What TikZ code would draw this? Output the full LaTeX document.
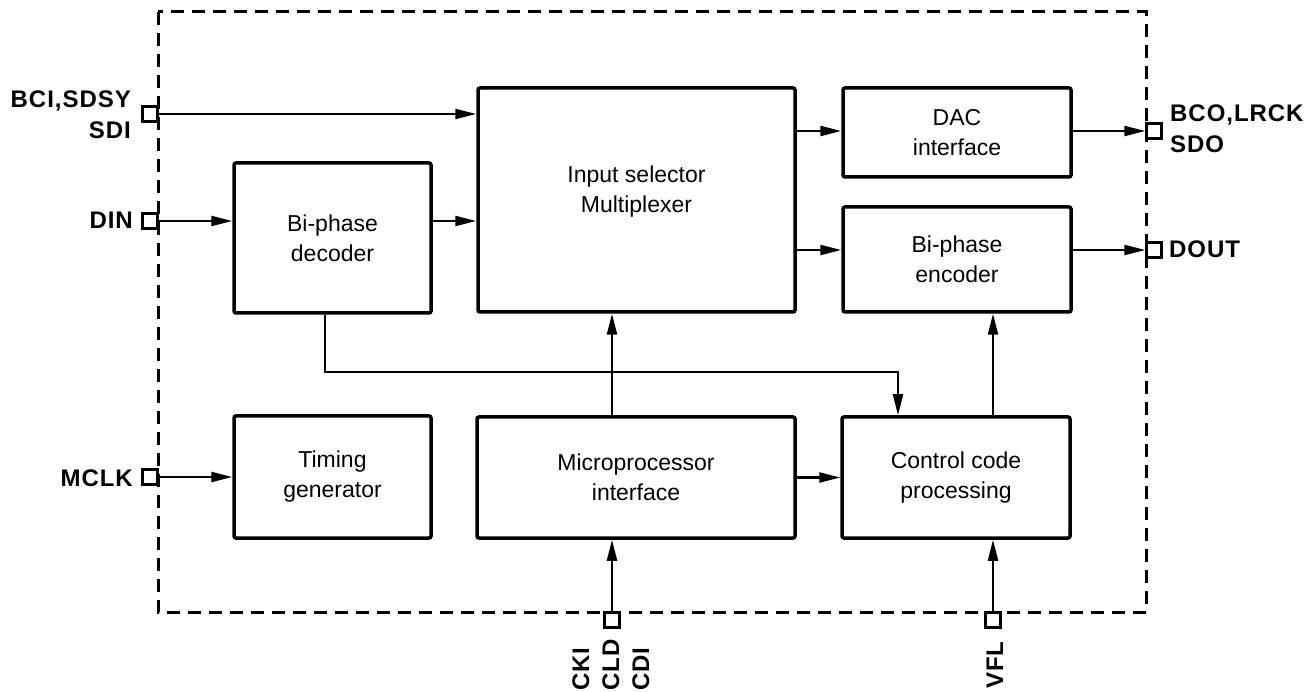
\documentclass[tikz,border=0pt]{standalone}
\usepackage{fontspec}
\setmainfont{Liberation Sans}
\usetikzlibrary{arrows.meta}
\begin{document}
\begin{tikzpicture}[x=1pt,y=-1pt,
  blk/.style={draw, line width=3.5pt, rounded corners=2pt, align=center, inner sep=0pt,
    font=\fontsize{23}{30}\selectfont},
  pinbox/.style={draw, line width=2.4pt, minimum size=15pt, inner sep=0pt},
  lbl/.style={inner sep=0pt, font=\fontsize{24}{30}\selectfont\bfseries\addfontfeatures{LetterSpace=4}},
  arr/.style={line width=2.3pt, -{Triangle[length=21pt,width=10pt]}},
  border/.style={line width=3pt, dash pattern=on 13pt off 8pt}]
\useasboundingbox (0,0) rectangle (1307,692);
% outer dashed boundary
\draw[border] (158,12) rectangle (1146,612);
% blocks
\node[blk, minimum width=197pt, minimum height=150pt] (dec) at (332.5,238) {Bi-phase\\decoder};
\node[blk, minimum width=317pt, minimum height=224pt] (mux) at (636.5,200) {};
\node at (636.5,192) [align=center, inner sep=0pt, font=\fontsize{23}{30}\selectfont] (muxt) {Input selector\\Multiplexer};
\node[blk, minimum width=228pt, minimum height=89pt] (dac) at (957,132.5) {DAC\\interface};
\node[blk, minimum width=228pt, minimum height=105pt] (enc) at (957,259.5) {Bi-phase\\encoder};
\node[blk, minimum width=197pt, minimum height=122pt] (tim) at (332.5,477) {Timing\\generator};
\node[blk, minimum width=318pt, minimum height=121pt] (mic) at (636,477.5) {Microprocessor\\interface};
\node[blk, minimum width=228pt, minimum height=121pt] (ctl) at (956,477.5) {Control code\\processing};
% pins
\node[pinbox] (pBCI) at (150,114) {};
\node[pinbox] (pDIN) at (150,221) {};
\node[pinbox] (pMCLK) at (150,477) {};
\node[pinbox] (pBCO) at (1154,131) {};
\node[pinbox] (pDOUT) at (1154,250) {};
\node[pinbox] (pCKI) at (612,620) {};
\node[pinbox] (pVFL) at (993,620) {};
% pin labels
\node[lbl, anchor=base east] (lBCI) at (131,108) {BCI,SDSY};
\node[lbl, anchor=base east] (lSDI) at (131,139) {SDI};
\node[lbl, anchor=base east] (lDIN) at (133,229) {DIN};
\node[lbl, anchor=base east] (lMCLK) at (133,486) {MCLK};
\node[lbl, anchor=base west] (lBCO) at (1170,122) {BCO,LRCK};
\node[lbl, anchor=base west] (lSDO) at (1170,153) {SDO};
\node[lbl, anchor=base west] (lDOUT) at (1169,258) {DOUT};
\node[lbl, rotate=90, anchor=base west] (lCKI) at (589,691) {CKI};
\node[lbl, rotate=90, anchor=base west] (lCLD) at (619,691) {CLD};
\node[lbl, rotate=90, anchor=base west] (lCDI) at (649,691) {CDI};
\node[lbl, rotate=90, anchor=base west] (lVFL) at (1003,689) {VFL};
% connectors
\draw[arr] (pBCI.east) -- (pBCI -| mux.west);
\draw[arr] (pDIN.east) -- (pDIN -| dec.west);
\draw[arr] (dec.east |- pDIN) -- (mux.west |- pDIN);
\draw[arr] (mux.east |- pBCO) -- (dac.west |- pBCO);
\draw[arr] (mux.east |- pDOUT) -- (enc.west |- pDOUT);
\draw[arr] (dac.east |- pBCO) -- (pBCO.west);
\draw[arr] (enc.east |- pDOUT) -- (pDOUT.west);
\draw[arr] ([xshift=-7.5pt]dec.south) -- ++(0,57) -| ([xshift=-58pt]ctl.north);
\draw[arr] (pCKI |- mic.north) -- (pCKI |- mux.south);
\draw[arr] (pVFL |- ctl.north) -- (pVFL |- enc.south);
\draw[arr] (pMCLK.east) -- (pMCLK -| tim.west);
\draw[arr] (mic.east) -- (ctl.west);
\draw[arr] (pCKI.north) -- (pCKI |- mic.south);
\draw[arr] (pVFL.north) -- (pVFL |- ctl.south);
\end{tikzpicture}
\end{document}
